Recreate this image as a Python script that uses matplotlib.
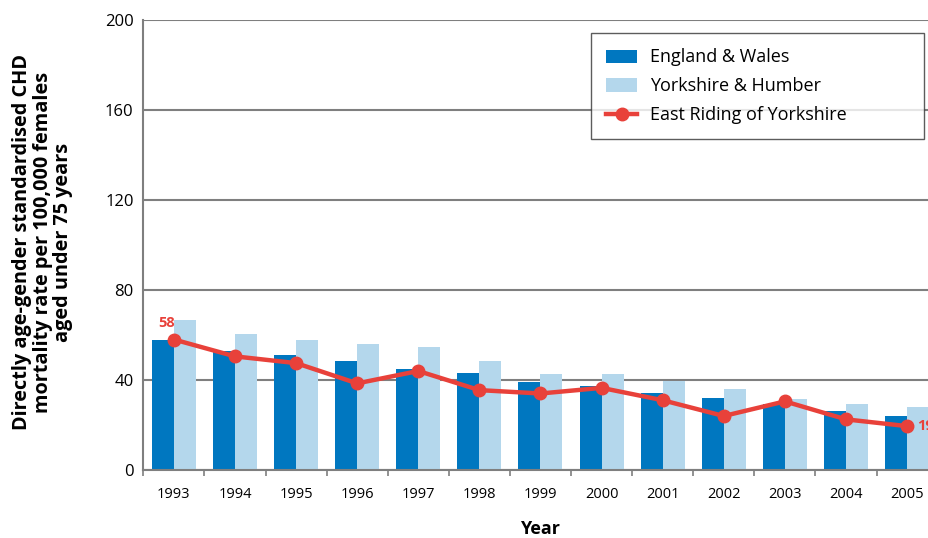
import numpy as np
import matplotlib.pyplot as plt

years = ['1993', '1994', '1995', '1996', '1997', '1998', '1999',
         '2000', '2001', '2002', '2003', '2004', '2005']
england_wales = [58, 53, 51, 48.5, 45, 43, 39, 37.5, 34, 32, 29.5, 26, 24]
yorks_humber = [66.5, 60.5, 58, 56, 54.5, 48.5, 42.5, 42.5, 39.5, 36, 31.5, 29.5, 28]
east_riding = [58, 50.5, 47.5, 38.5, 44, 35.5, 34, 36.5, 31, 24, 30.5, 22.5, 19.5]
east_riding_labels = {0: '58', 12: '19'}

c_ew = '#0077c0'
c_yh = '#b4d7ec'
c_er = '#e8413a'
grid_c = '#7f7f7f'

plt.rcParams['font.family'] = ['Open Sans', 'DejaVu Sans']

fig = plt.figure(figsize=(9.29, 5.38), dpi=100)
ax = fig.add_axes([0.1543, 0.1264, 0.855, 0.8364])

x = np.arange(len(years))
w = 0.36
ax.bar(x - w / 2, england_wales, w, color=c_ew, label='England & Wales', zorder=2)
ax.bar(x + w / 2, yorks_humber, w, color=c_yh, label='Yorkshire & Humber', zorder=2)
ax.plot(x, east_riding, color=c_er, lw=3.2, marker='o', markersize=9,
        label='East Riding of Yorkshire', zorder=3)

for i, txt in east_riding_labels.items():
    if i == 0:
        ax.annotate(txt, (x[i], east_riding[i]), xytext=(-5, 7), textcoords='offset points',
                    ha='center', va='bottom', color=c_er, fontsize=10.5, fontweight='bold')
    else:
        ax.annotate(txt, (x[i], east_riding[i]), xytext=(7, 0), textcoords='offset points',
                    ha='left', va='center', color=c_er, fontsize=10.5, fontweight='bold')

ax.set_xlim(-0.5, len(years) - 0.5)
ax.set_ylim(0, 200)
ax.set_yticks([0, 40, 80, 120, 160, 200])
ax.yaxis.grid(True, color=grid_c, lw=1.5, zorder=0)
ax.set_axisbelow(True)
ax.tick_params(axis='y', length=0, labelsize=12, pad=7)

ax.set_xticks(x)
ax.set_xticklabels(years, fontsize=10.5)
ax.set_xticks(np.arange(len(years) + 1) - 0.5, minor=True)
ax.tick_params(axis='x', which='major', length=0, pad=12)
ax.tick_params(axis='x', which='minor', length=4, color=grid_c, width=1.2)

for side in ['top', 'right']:
    ax.spines[side].set_visible(False)
for side in ['left', 'bottom']:
    ax.spines[side].set_color(grid_c)
    ax.spines[side].set_linewidth(1.5)

ax.set_xlabel('Year', fontsize=13, fontweight='bold', labelpad=13)
fig.text(0.046, 0.55, 'Directly age-gender standardised CHD\nmortality rate per 100,000 females\naged under 75 years',
         rotation=90, ha='center', va='center', fontsize=14.3, fontweight='bold', linespacing=1.05)

handles, labels = ax.get_legend_handles_labels()
order = [1, 2, 0]
leg = ax.legend([handles[i] for i in order], [labels[i] for i in order],
                loc='upper left', bbox_to_anchor=(0.5636, 0.5, 0.4194, 0.471), mode='expand',
                fontsize=13, frameon=True, fancybox=False, edgecolor='#333333',
                borderpad=0.85, labelspacing=0.6, handlelength=1.72, handleheight=0.75,
                handletextpad=0.72, borderaxespad=0)
leg.get_frame().set_linewidth(1.0)

fig.savefig('out.png', dpi=100)
